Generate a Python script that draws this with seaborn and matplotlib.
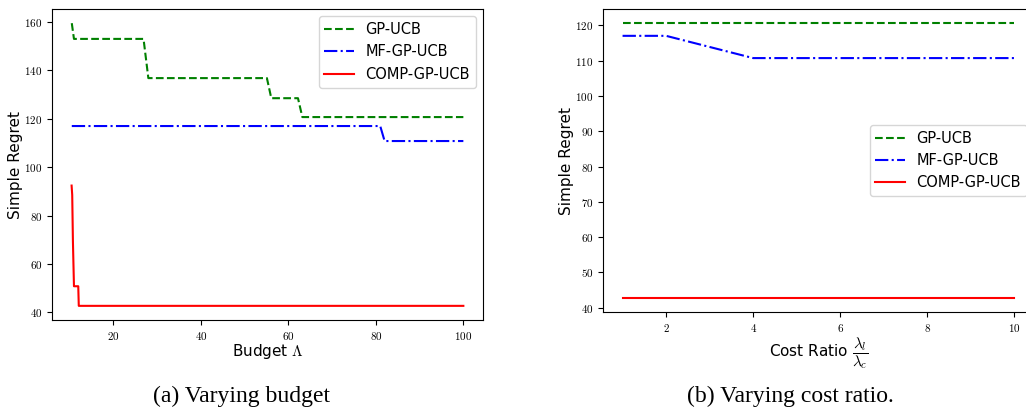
import pandas as pd
import matplotlib.pyplot as plt
import seaborn as sns

# Left panel: breakpoints of the step curves vs budget
budget_gp = [10.5, 11.0, 26.9, 28.0, 55.1, 56.1, 62.2, 63.2, 100]
regret_gp = [159.5, 153.0, 153.0, 136.8, 136.8, 128.5, 128.5, 120.7, 120.7]

budget_mf = [10.5, 81.0, 82.0, 100]
regret_mf = [117.0, 117.0, 110.8, 110.8]

budget_comp = [10.46, 10.6, 10.76, 11.0, 11.98, 12.1, 100]
regret_comp = [92.4, 88.5, 69.4, 50.8, 50.8, 42.7, 42.7]

# Right panel: cost ratio
ratio = [1, 2, 4, 6, 8, 10]
ratio_gp = [120.7, 120.7, 120.7, 120.7, 120.7, 120.7]
ratio_mf = [117.0, 117.0, 110.7, 110.7, 110.7, 110.7]
ratio_comp = [42.7, 42.7, 42.7, 42.7, 42.7, 42.7]

plt.rcParams['mathtext.fontset'] = 'cm'
plt.rcParams['font.family'] = 'DejaVu Sans'

fig = plt.figure(figsize=(10.26, 4.07), dpi=100)
ax1 = fig.add_axes([0.0507, 0.2138, 0.42, 0.764])
ax2 = fig.add_axes([0.5877, 0.2334, 0.42, 0.7445])

styles = [('GP-UCB', 'green', '--'), ('MF-GP-UCB', 'blue', '-.'), ('COMP-GP-UCB', 'red', '-')]

left = [(budget_gp, regret_gp), (budget_mf, regret_mf), (budget_comp, regret_comp)]
for (x, y), (name, col, ls) in zip(left, styles):
    df = pd.DataFrame({'x': x, 'y': y})
    sns.lineplot(data=df, x='x', y='y', ax=ax1, color=col, linestyle=ls,
                 linewidth=1.5, label=name, sort=False, estimator=None)

right = [ratio_gp, ratio_mf, ratio_comp]
for y, (name, col, ls) in zip(right, styles):
    df = pd.DataFrame({'x': ratio, 'y': y})
    sns.lineplot(data=df, x='x', y='y', ax=ax2, color=col, linestyle=ls,
                 linewidth=1.5, label=name, sort=False, estimator=None)

ax1.set_xticks([20, 40, 60, 80, 100])
ax1.set_yticks([40, 60, 80, 100, 120, 140, 160])
ax2.set_xticks([2, 4, 6, 8, 10])
ax2.set_yticks(list(range(40, 121, 10)))

for ax in (ax1, ax2):
    ax.xaxis.set_major_formatter(plt.FuncFormatter(lambda v, p: r'$%d$' % v))
    ax.yaxis.set_major_formatter(plt.FuncFormatter(lambda v, p: r'$%d$' % v))
    ax.tick_params(labelsize=8)
    ax.set_ylabel('Simple Regret', fontsize=11, labelpad=0.5)

ax1.set_xlabel(r'Budget $\Lambda$', fontsize=11, labelpad=0)
ax2.set_xlabel(r'Cost Ratio $\dfrac{\lambda_l}{\lambda_c}$', fontsize=11, labelpad=1)

ax1.legend(loc='upper right', fontsize=10.5)
ax2.legend(loc='center right', fontsize=10.5)

fig.text(0.235, 0.012, '(a) Varying budget', fontsize=17, family='Liberation Serif', ha='center')
fig.text(0.77, 0.012, '(b) Varying cost ratio.', fontsize=17, family='Liberation Serif', ha='center')

plt.savefig('out.png', dpi=100)
